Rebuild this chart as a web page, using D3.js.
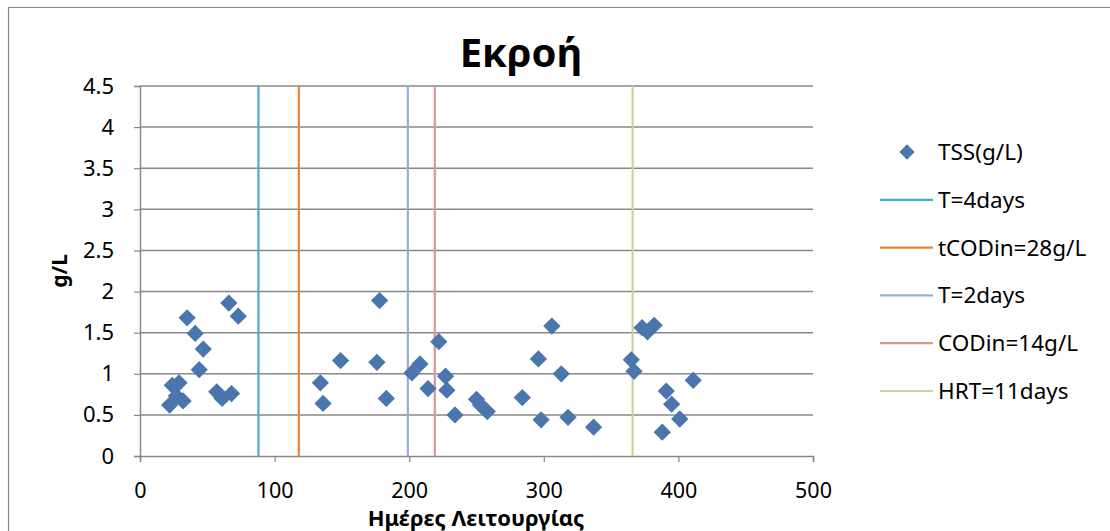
<!DOCTYPE html>
<html>
<head>
<meta charset="utf-8">
<script src="https://cdn.jsdelivr.net/npm/d3@7"></script>
<style>
  body { margin: 0; background: #fff; }
  svg text { font-family: "Noto Sans", "Open Sans", sans-serif; fill: #000; }
</style>
</head>
<body>
<svg id="chart" width="1110" height="531"></svg>
<script>
// données
const days = [22, 24, 27, 29, 32, 35, 41, 44, 47, 57, 61, 66, 68, 73,
              134, 136, 149, 176, 178, 183, 202, 208, 214, 222, 227, 228, 234,
              250, 253, 258, 284, 296, 298, 306, 313, 318, 337, 365, 367,
              373, 377, 382, 388, 391, 395, 401, 411];
const tss = [0.62, 0.86, 0.73, 0.89, 0.67, 1.68, 1.49, 1.05, 1.30, 0.78, 0.70, 1.86, 0.76, 1.70,
             0.89, 0.64, 1.16, 1.14, 1.89, 0.70, 1.01, 1.12, 0.82, 1.39, 0.97, 0.80, 0.50,
             0.69, 0.62, 0.54, 0.71, 1.18, 0.44, 1.58, 1.00, 0.47, 0.35, 1.17, 1.03,
             1.56, 1.51, 1.59, 0.29, 0.79, 0.63, 0.45, 0.92];

const markerNames = ["T=4days", "tCODin=28g/L", "T=2days", "CODin=14g/L", "HRT=11days"];
const markerDays = [88, 118, 199, 219, 366];
const markerColors = ["#4BACC6", "#E8843A", "#95B0D8", "#D99694", "#C3D69B"];

const xTicks = [0, 100, 200, 300, 400, 500];
const yTicks = [0, 0.5, 1, 1.5, 2, 2.5, 3, 3.5, 4, 4.5];

const svg = d3.select("#chart");
const plotL = 140, plotR = 813, plotT = 86, plotB = 456;

const x = d3.scaleLinear().domain([0, 500]).range([plotL, plotR]);
const y = d3.scaleLinear().domain([0, 4.5]).range([plotB, plotT]);

// cadre extérieur (haut et gauche seulement visibles)
svg.append("line").attr("x1", 8).attr("x2", 1110).attr("y1", 7.5).attr("y2", 7.5)
   .attr("stroke", "#888").attr("stroke-width", 1.2);
svg.append("line").attr("x1", 8.5).attr("x2", 8.5).attr("y1", 7.5).attr("y2", 531)
   .attr("stroke", "#888").attr("stroke-width", 1.2);

// lignes de la grille horizontale
svg.append("g").selectAll("line").data(yTicks.filter(d => d > 0)).join("line")
   .attr("x1", plotL).attr("x2", plotR)
   .attr("y1", d => y(d)).attr("y2", d => y(d))
   .attr("stroke", "#888").attr("stroke-width", 1.5);

// axe Y
const yAxis = svg.append("g").attr("transform", `translate(${plotL},0)`)
   .call(d3.axisLeft(y).tickValues(yTicks).tickSize(6).tickPadding(20).tickFormat(d3.format("")));
yAxis.select(".domain").attr("stroke", "#888").attr("stroke-width", 1.5);
yAxis.selectAll(".tick line").attr("stroke", "#888").attr("stroke-width", 1.2);
yAxis.selectAll("text").attr("font-size", 22).attr("font-family", "'Noto Sans', sans-serif");

// axe X
const xAxis = svg.append("g").attr("transform", `translate(0,${plotB})`)
   .call(d3.axisBottom(x).tickValues(xTicks).tickSize(6).tickPadding(21));
xAxis.select(".domain").attr("stroke", "#888").attr("stroke-width", 1.5);
xAxis.selectAll(".tick line").attr("stroke", "#888").attr("stroke-width", 1.2);
xAxis.selectAll("text").attr("font-size", 21.5).attr("font-family", "'Noto Sans', sans-serif");

// lignes verticales des changements
svg.append("g").selectAll("line").data(markerDays).join("line")
   .attr("x1", d => x(d)).attr("x2", d => x(d))
   .attr("y1", y(4.5)).attr("y2", y(0))
   .attr("stroke", (d, i) => markerColors[i]).attr("stroke-width", 2.2);

// points TSS (losanges)
const diamond = d3.symbol().type(d3.symbolDiamond2).size(190);
svg.append("g").selectAll("path").data(days).join("path")
   .attr("d", diamond)
   .attr("transform", (d, i) => `translate(${x(d)},${y(tss[i])})`)
   .attr("fill", "#4A76AD");

// titre et noms des axes
svg.append("text").attr("x", 521).attr("y", 67).attr("text-anchor", "middle")
   .attr("font-size", 40).attr("font-weight", "bold").text("Εκροή");
svg.append("text").attr("x", 476).attr("y", 526).attr("text-anchor", "middle")
   .attr("font-size", 22).attr("font-weight", "bold").text("Ημέρες Λειτουργίας");
svg.append("text").attr("transform", "translate(67,271) rotate(-90)").attr("text-anchor", "middle")
   .attr("font-size", 21).attr("font-weight", "bold").text("g/L");

// légende
const leg = svg.append("g");
const rowY = i => 152 + i * 47.8;
leg.append("path").attr("d", d3.symbol().type(d3.symbolDiamond2).size(150))
   .attr("transform", `translate(907,${rowY(0)})`).attr("fill", "#4A76AD");
leg.append("text").attr("x", 938).attr("y", rowY(0) + 8).attr("font-size", 22.5).text("TSS(g/L)");
markerNames.forEach((name, i) => {
  leg.append("line").attr("x1", 880).attr("x2", 933)
     .attr("y1", rowY(i + 1)).attr("y2", rowY(i + 1))
     .attr("stroke", markerColors[i]).attr("stroke-width", 2.2);
  leg.append("text").attr("x", 938).attr("y", rowY(i + 1) + 8).attr("font-size", 22.5).text(name);
});
</script>
</body>
</html>
